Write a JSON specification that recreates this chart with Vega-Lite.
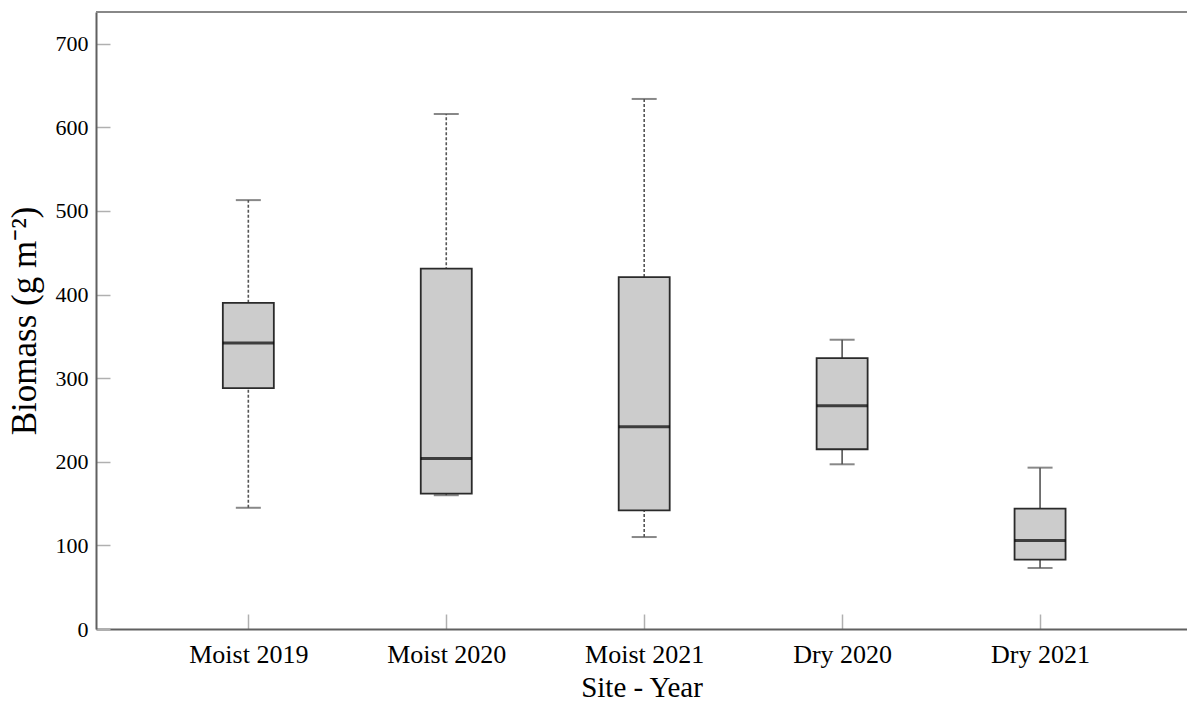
{
  "$schema": "https://vega.github.io/schema/vega-lite/v6.json",
  "width": 1091,
  "height": 617,
  "autosize": "none",
  "padding": {"left": 96, "top": 12, "right": 0, "bottom": 75},
  "background": "white",
  "config": {"view": {"stroke": null}, "font": "Liberation Serif"},
  "data": {"values": [
    {"cat": "Moist 2019", "min": 145, "q1": 288, "median": 342, "q3": 390, "max": 513},
    {"cat": "Moist 2020", "min": 160, "q1": 162, "median": 204, "q3": 431, "max": 616},
    {"cat": "Moist 2021", "min": 110, "q1": 142, "median": 242, "q3": 421, "max": 634},
    {"cat": "Dry 2020", "min": 197, "q1": 215, "median": 267, "q3": 324, "max": 346},
    {"cat": "Dry 2021", "min": 73, "q1": 83, "median": 106, "q3": 144, "max": 193}
  ]},
  "layer": [
    {
      "mark": {"type": "rule", "color": "#888", "strokeWidth": 2},
      "encoding": {
        "y": {"datum": 738, "type": "quantitative",
          "scale": {"domain": [0, 738], "nice": false, "zero": true},
          "axis": {
            "title": "Biomass (g m⁻²)", "titleFontSize": 35, "titleFontWeight": "normal", "titleColor": "#000", "titlePadding": 13,
            "values": [0, 100, 200, 300, 400, 500, 600, 700],
            "labelFontSize": 22, "labelColor": "#000", "labelPadding": 22,
            "domainColor": "#606060", "domainWidth": 2,
            "tickSize": -14, "tickColor": "#b0b0b0", "tickWidth": 1.5, "grid": false
          }
        }
      }
    },
    {
      "mark": {"type": "rule", "color": "#555", "strokeWidth": 1.6},
      "encoding": {
        "x": {
          "field": "cat", "type": "nominal", "sort": null,
          "scale": {"type": "point", "padding": 0.756, "align": 0.509},
          "axis": {
            "title": "Site - Year", "titleFontSize": 29, "titleFontWeight": "normal", "titleColor": "#000", "titlePadding": 6,
            "labelFontSize": 26, "labelColor": "#000", "labelAngle": 0, "labelPadding": 27,
            "domainColor": "#606060", "domainWidth": 2,
            "tickSize": -15, "tickColor": "#b0b0b0", "tickWidth": 1.5
          }
        },
        "y": {"field": "min", "type": "quantitative"},
        "y2": {"field": "max"},
        "strokeDash": {"condition": {"test": "indexof(datum.cat, 'Moist') == 0", "value": [3, 2]}, "value": [1, 0]}
      }
    },
    {
      "mark": {"type": "tick", "color": "#555", "size": 25, "thickness": 2},
      "encoding": {
        "x": {"field": "cat", "type": "nominal", "sort": null},
        "y": {"field": "min", "type": "quantitative"},
        "strokeDash": {"condition": {"test": "datum.cat != 'Dry 2020'", "value": [5, 1.5]}, "value": [1, 0]}
      }
    },
    {
      "mark": {"type": "tick", "color": "#555", "size": 25, "thickness": 2},
      "encoding": {
        "x": {"field": "cat", "type": "nominal", "sort": null},
        "y": {"field": "max", "type": "quantitative"},
        "strokeDash": {"condition": {"test": "datum.cat != 'Dry 2020'", "value": [5, 1.5]}, "value": [1, 0]}
      }
    },
    {
      "mark": {"type": "bar", "size": 51, "fill": "#cccccc", "stroke": "#2a2a2a", "strokeWidth": 1.8},
      "encoding": {
        "x": {"field": "cat", "type": "nominal", "sort": null},
        "y": {"field": "q1", "type": "quantitative"},
        "y2": {"field": "q3"}
      }
    },
    {
      "mark": {"type": "tick", "color": "#000", "size": 51, "thickness": 3},
      "encoding": {
        "x": {"field": "cat", "type": "nominal", "sort": null},
        "y": {"field": "median", "type": "quantitative"}
      }
    }
  ]
}
